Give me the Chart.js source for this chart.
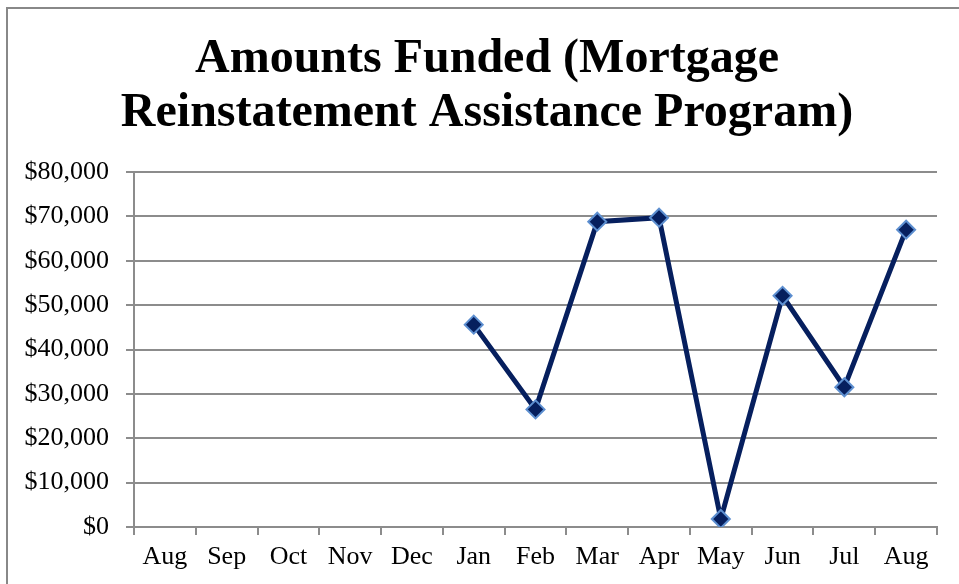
<!DOCTYPE html>
<html>
<head>
<meta charset="utf-8">
<script src="https://cdn.jsdelivr.net/npm/chart.js@4.4.1/dist/chart.umd.min.js"></script>
<style>
  html, body { margin: 0; padding: 0; background: #fff; overflow: hidden; }
  #wrap { position: relative; width: 959px; height: 584px; }
  #frame { position: absolute; left: 6px; top: 7px; width: 1000px; height: 1000px; border: 2px solid #888; }
  canvas { position: absolute; left: 0; top: 0; }
</style>
</head>
<body>
<div id="wrap">
  <div id="frame"></div>
  <canvas id="myChart" width="959" height="584"></canvas>
</div>
<script>
// Chart data
const months = ["Aug", "Sep", "Oct", "Nov", "Dec", "Jan", "Feb", "Mar", "Apr", "May", "Jun", "Jul", "Aug"];
const amounts = [null, null, null, null, null, 45600, 26500, 68800, 69700, 1800, 52100, 31500, 67000];
const titleLines = ["Amounts Funded (Mortgage", "Reinstatement Assistance Program)"];

const fontFamily = "'Liberation Serif', 'Times New Roman', serif";
const gridColor = "#8c8c8c";

const ctx = document.getElementById('myChart').getContext('2d');

// nudge the title box so it is centred like the original
const titleShift = {
  id: 'titleShift',
  afterLayout(chart) {
    if (chart.titleBlock) chart.titleBlock.left += 37;
  }
};

const config = {
  type: 'line',
  data: {
    labels: months,
    datasets: [{
      data: amounts,
      borderColor: '#061f5e',
      borderWidth: 5,
      fill: false,
      tension: 0,
      pointStyle: 'rectRot',
      pointRadius: 9,
      pointBackgroundColor: '#061f5e',
      pointBorderColor: '#5d8fd0',
      pointBorderWidth: 2
    }]
  },
  options: {
    responsive: false,
    animation: false,
    layout: { padding: { left: 0, right: 22, top: 0, bottom: 0 } },
    plugins: {
      legend: { display: false },
      tooltip: { enabled: false },
      title: {
        display: true,
        text: titleLines,
        color: '#000',
        font: { family: fontFamily, size: 48, weight: 'bold', lineHeight: 1.125 },
        padding: { top: 33, bottom: 31 }
      }
    },
    scales: {
      x: {
        offset: true,
        grid: {
          offset: true,
          drawOnChartArea: false,
          drawTicks: true,
          tickLength: 8,
          color: gridColor,
          lineWidth: 2
        },
        border: { color: gridColor, width: 2 },
        ticks: {
          color: '#000',
          font: { family: fontFamily, size: 26 },
          padding: 7,
          maxRotation: 0,
          autoSkip: false
        },
        afterFit: (scale) => { scale.height = 57; }
      },
      y: {
        min: 0,
        max: 80000,
        grid: {
          color: gridColor,
          lineWidth: 2,
          tickLength: 8
        },
        border: { color: gridColor, width: 2 },
        ticks: {
          stepSize: 10000,
          color: '#000',
          font: { family: fontFamily, size: 26 },
          padding: 17,
          callback: (v) => '$' + v.toLocaleString('en-US')
        },
        afterFit: (scale) => { scale.width = 134; }
      }
    }
  },
  plugins: [titleShift]
};

var chart = new Chart(ctx, config);
</script>
</body>
</html>
